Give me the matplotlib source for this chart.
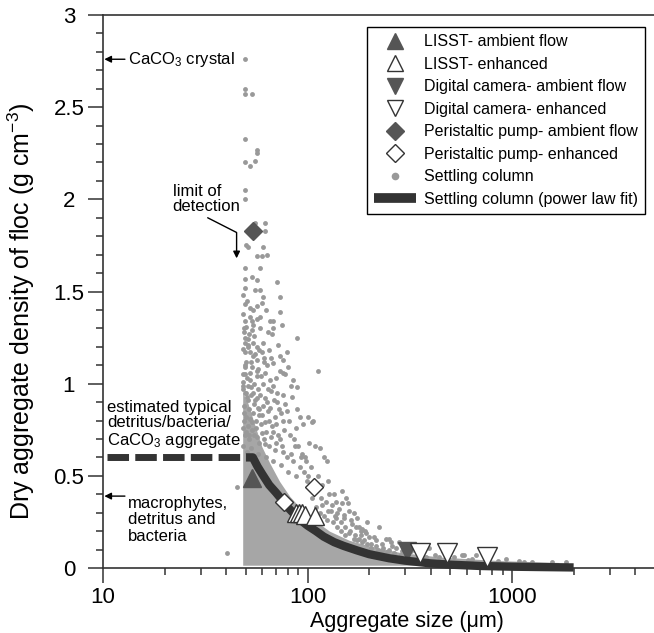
import numpy as np
import matplotlib.pyplot as plt
from matplotlib.lines import Line2D
from matplotlib.ticker import MultipleLocator, LogLocator, NullFormatter

plt.rcParams['font.family'] = ['Liberation Sans', 'DejaVu Sans']
plt.rcParams['mathtext.fontset'] = 'custom'
plt.rcParams['mathtext.rm'] = 'Liberation Sans'
plt.rcParams['mathtext.it'] = 'Liberation Sans:italic'
plt.rcParams['mathtext.default'] = 'regular'

col_x = [49.3, 49.3, 49.3, 53.3, 49.3, 56.5, 56.7, 49.3, 52.1, 55.1, 49.3, 49.3,
         55.1, 61.7, 61.7, 49.9, 50.9, 60.3, 63.1, 56.4, 59.7,
         49.3, 58.3, 49.3, 53.3, 56.4, 70.6, 49.3, 55.1, 58.3, 60.3, 73.0,
         49.3, 52.1, 56.4, 53.9, 59.7, 73.0, 49.3, 53.3, 56.4, 65.3, 67.5, 74.7,
         58.3, 63.8, 67.5, 88.4, 49.3, 50.9, 49.3, 50.9, 53.9, 56.4, 60.3,
         49.3, 52.1, 53.9, 59.7, 56.4, 79.0, 73.0, 75.5, 67.5, 63.1, 111.9,
         49.3, 53.3, 56.4, 73.0, 75.5, 79.9, 49.3, 52.1, 56.4, 60.3, 65.3, 67.5,
         84.5, 88.4, 49.3, 53.9, 70.6, 75.5, 100, 104.6, 88.4, 91.4, 105.8,
         102, 108.2, 93.5, 96.7, 121, 124, 114.5,
         147, 135, 155, 157, 138, 148, 132, 160, 169, 175,
         196, 224, 179, 185, 194, 183, 212, 251, 243, 257, 281, 260,
         394, 583, 570, 667, 935, 1082, 1253, 1567, 1834, 45.1, 40.3,
         48.5, 50.5, 52.8, 55.5, 58.5, 62, 66, 71, 78, 84,
         48.8, 51.5, 54, 57, 60, 64, 69, 74, 81, 95,
         49, 51, 53.5, 56, 59, 62.5, 67, 72, 77, 86,
         49.5, 52, 55, 58, 61, 65, 70, 76, 83, 90,
         48.6, 50.8, 53, 57.5, 63, 68, 74, 80, 88, 99,
         104, 112, 118, 126, 128, 140, 150, 165, 190, 230,
         270, 320, 350, 420, 460, 520, 640, 750, 850, 1150,
         48.3, 50.2, 51.8, 48.4, 54.6, 57.8, 61.2, 50.0, 52.6, 48.2,
         54.8, 58.9, 62.3, 69.8, 64.4, 57.0, 51.2, 48.9, 53.4, 66.0,
         48.4, 49.8, 51.4, 53.1, 54.9, 56.8, 58.2, 60.7, 63.5, 65.9,
         68.2, 72.5, 76.1, 79.6, 48.9, 50.3, 52.2, 55.7, 57.9, 61.8,
         64.9, 67.7, 70.3, 73.4, 48.3, 50.1, 51.9, 53.8, 56.4, 59.6,
         62.1, 66.3, 69.3, 75.2, 79.1, 85.0, 91.8, 96.0, 101, 108,
         113, 117, 123, 130, 137, 145, 153, 162, 170, 178,
         188, 205, 215, 235, 250, 290, 310, 380, 440, 610,
         82, 87, 93, 98, 88,
         105, 110, 115, 120, 125, 133, 140, 146, 152, 160,
         168, 175, 185, 195, 205, 220, 232, 245, 265, 285,
         118, 126, 138, 142, 150, 163, 172, 182, 200, 215,
         48.5, 50.6, 52.4, 54.2, 48.7, 51.3, 55.5, 49.6, 53.0, 57.2,
         48.3, 50.4, 61.5, 64.8, 71.4, 77.5, 83.0, 58.8, 62.7, 66.9]
col_y = [2.76, 2.60, 2.57, 2.57, 2.33, 2.27, 2.25, 2.20, 2.18, 2.21, 2.05, 2.00,
         1.87, 1.87, 1.83, 1.75, 1.74, 1.74, 1.70, 1.69, 1.69,
         1.63, 1.63, 1.57, 1.58, 1.56, 1.55, 1.52, 1.51, 1.51, 1.47, 1.47,
         1.43, 1.41, 1.42, 1.40, 1.44, 1.39, 1.34, 1.34, 1.35, 1.34, 1.34, 1.32,
         1.30, 1.28, 1.30, 1.25, 1.25, 1.24, 1.22, 1.20, 1.22, 1.20, 1.22,
         1.17, 1.17, 1.15, 1.17, 1.13, 1.17, 1.15, 1.13, 1.11, 1.10, 1.07,
         1.09, 1.09, 1.07, 1.07, 1.06, 1.09, 1.05, 1.02, 1.04, 1.00, 1.02, 0.99,
         1.02, 0.98, 0.95, 0.95, 0.95, 0.94, 0.82, 0.79, 0.86, 0.82, 0.80,
         0.68, 0.66, 0.62, 0.60, 0.60, 0.58, 0.65,
         0.42, 0.40, 0.38, 0.35, 0.36, 0.35, 0.34, 0.31, 0.30, 0.27,
         0.25, 0.22, 0.22, 0.21, 0.19, 0.18, 0.17, 0.16, 0.16, 0.14, 0.14, 0.12,
         0.11, 0.07, 0.07, 0.07, 0.05, 0.04, 0.03, 0.03, 0.03, 0.44, 0.08,
         0.97, 0.93, 0.98, 0.91, 0.94, 0.92, 0.96, 0.90, 0.89, 0.93,
         0.88, 0.86, 0.84, 0.87, 0.83, 0.85, 0.82, 0.84, 0.80, 0.78,
         0.80, 0.77, 0.79, 0.76, 0.78, 0.74, 0.77, 0.72, 0.75, 0.70,
         0.72, 0.70, 0.72, 0.68, 0.70, 0.66, 0.68, 0.63, 0.62, 0.66,
         0.66, 0.63, 0.65, 0.62, 0.60, 0.58, 0.56, 0.52, 0.50, 0.47,
         0.55, 0.50, 0.45, 0.47, 0.40, 0.30, 0.27, 0.24, 0.20, 0.13,
         0.11, 0.09, 0.10, 0.07, 0.09, 0.06, 0.05, 0.045, 0.04, 0.035,
         1.38, 1.31, 1.27, 1.19, 1.26, 1.18, 1.14, 1.12, 1.06, 1.01,
         1.00, 1.04, 1.06, 1.03, 0.97, 0.97, 0.99, 1.30, 1.29, 1.14,
         0.99, 0.95, 0.91, 0.94, 0.89, 0.92, 0.86, 0.88, 0.90, 0.87,
         0.91, 0.86, 0.80, 0.85, 0.84, 0.82, 0.81, 0.80, 0.83, 0.79,
         0.80, 0.74, 0.78, 0.70, 0.76, 0.74, 0.72, 0.75, 0.71, 0.73,
         0.67, 0.71, 0.64, 0.66, 0.60, 0.58, 0.55, 0.52, 0.50, 0.47,
         0.44, 0.38, 0.36, 0.31, 0.28, 0.25, 0.22, 0.20, 0.18, 0.16,
         0.15, 0.13, 0.12, 0.11, 0.10, 0.09, 0.07, 0.06, 0.06, 0.045,
         0.72, 0.66, 0.60, 0.58, 0.76,
         0.38, 0.33, 0.30, 0.28, 0.26, 0.25, 0.22, 0.20, 0.18, 0.19,
         0.16, 0.15, 0.14, 0.13, 0.11, 0.10, 0.09, 0.085, 0.08, 0.07,
         0.34, 0.31, 0.27, 0.32, 0.29, 0.26, 0.22, 0.20, 0.17, 0.15,
         1.48, 1.45, 1.36, 1.32, 1.28, 1.21, 1.16, 1.10, 1.12, 1.08,
         1.05, 1.03, 1.12, 1.18, 1.21, 1.05, 0.99, 1.36, 1.40, 1.27]

# envelope of the densely packed part of the settling column cloud
core_x = [48.2, 50.9, 55.1, 59.7, 65.3, 73.0, 81.7, 91.4, 108, 128, 160, 201, 281, 441, 865, 1695]
core_top = [0.95, 0.90, 0.78, 0.66, 0.57, 0.47, 0.39, 0.33, 0.26, 0.20, 0.15, 0.12, 0.085, 0.06, 0.04, 0.03]
core_bottom = 0.015

# power law fit of the settling column
fit_x = [50, 54, 57, 60, 65, 70, 75, 80, 90, 100, 110, 120, 135, 150, 175, 200,
         250, 300, 400, 500, 700, 1000, 1400, 2000]
fit_y = [0.60, 0.60, 0.55, 0.51, 0.45, 0.41, 0.37, 0.33, 0.27, 0.23, 0.20, 0.17,
         0.14, 0.12, 0.095, 0.075, 0.053, 0.040, 0.025, 0.018, 0.011, 0.007, 0.005, 0.003]

# estimated typical detritus/bacteria/CaCO3 aggregate density
typ_x = [10.45, 52]
typ_y = [0.6, 0.6]

lisst_amb_x = [53.3]
lisst_amb_y = [0.49]
lisst_enh_x = [88, 91, 94, 97, 109]
lisst_enh_y = [0.30, 0.30, 0.30, 0.29, 0.28]
cam_amb_x = [305]
cam_amb_y = [0.09]
cam_enh_x = [355, 480, 755]
cam_enh_y = [0.08, 0.08, 0.06]
pump_amb_x = [54]
pump_amb_y = [1.83]
pump_enh_x = [77, 107]
pump_enh_y = [0.36, 0.44]

yticks = [0, 0.5, 1, 1.5, 2, 2.5, 3]
ytick_labels = ['0', '0.5', '1', '1.5', '2', '2.5', '3']

dot_c = '#999999'
core_c = '#a6a6a6'
dark = '#333333'
mark_c = '#555555'

fig = plt.figure(figsize=(6.54, 6.33), dpi=100)
ax = fig.add_axes([103 / 654, 1 - 568 / 633, 552 / 654, 553 / 633])
ax.set_xscale('log')

ax.fill_between(core_x, core_bottom, core_top, color=core_c, lw=0, zorder=1)
ax.plot(col_x, col_y, 'o', ms=3.5, color=dot_c, mec='none', zorder=2)
ax.plot(typ_x, typ_y, color=dark, lw=5, dashes=(3.1, 0.9), dash_capstyle='butt', zorder=3)
ax.plot(fit_x, fit_y, color=dark, lw=6, solid_capstyle='butt', solid_joinstyle='round',
        clip_on=False, zorder=3)

ax.plot(lisst_amb_x, lisst_amb_y, '^', ms=13, color=mark_c, mec=mark_c, zorder=2.5)
ax.plot(lisst_enh_x, lisst_enh_y, '^', ms=13, mfc='white', mec=dark, mew=1, zorder=4)
ax.plot(cam_amb_x, cam_amb_y, 'v', ms=13, color=mark_c, mec=mark_c, zorder=2.5)
ax.plot(cam_enh_x, cam_enh_y, 'v', ms=14, mfc='white', mec=dark, mew=1, zorder=4)
ax.plot(pump_amb_x, pump_amb_y, 'D', ms=9.5, color=mark_c, mec=mark_c, zorder=4)
ax.plot(pump_enh_x, pump_enh_y, 'D', ms=9.5, mfc='white', mec=dark, mew=1, zorder=4)

ax.set_xlim(10, 5000)
ax.set_ylim(0, 3)
ax.set_xticks([10, 100, 1000])
ax.set_xticklabels(['10', '100', '1000'])
ax.xaxis.set_minor_locator(LogLocator(base=10, subs=np.arange(2, 10)))
ax.xaxis.set_minor_formatter(NullFormatter())
ax.set_yticks(yticks)
ax.set_yticklabels(ytick_labels, ha='center')
ax.yaxis.set_minor_locator(MultipleLocator(0.1))
ax.tick_params(which='major', direction='out', length=10.5, width=1.1, labelsize=16, pad=3, color=dark)
ax.tick_params(axis='y', which='major', pad=14)
ax.tick_params(which='minor', direction='out', length=5, width=1.1, color=dark)
ax.spines['right'].set_visible(False)
for s in ['left', 'bottom', 'top']:
    ax.spines[s].set_linewidth(1.2)
    ax.spines[s].set_color(dark)

ax.set_xlabel('Aggregate size (\u03bcm)', fontsize=15.5)
ax.xaxis.set_label_coords(0.551, -0.078)
ax.set_ylabel('Dry aggregate density of floc (g cm$^{-3}$)', fontsize=18)
ax.yaxis.set_label_coords(-0.119, 0.465)

# annotations
arrow_kw = dict(arrowstyle='-|>', color='black', lw=1, shrinkA=0, shrinkB=0, mutation_scale=10)
ax.text(13.24, 2.76, 'CaCO$_3$ crystal', fontsize=12, va='center', ha='left')
ax.annotate('', xy=(10.15, 2.76), xytext=(12.8, 2.76), arrowprops=arrow_kw)
ax.text(13.24, 0.39, 'macrophytes,\ndetritus and\nbacteria', fontsize=12, va='top', ha='left',
        linespacing=1.1)
ax.annotate('', xy=(10.15, 0.39), xytext=(12.8, 0.39), arrowprops=arrow_kw)
ax.text(10.45, 0.64, 'estimated typical\ndetritus/bacteria/\nCaCO$_3$ aggregate', fontsize=12,
        va='bottom', ha='left', linespacing=1.05)
ax.text(21.9, 2.0, 'limit of\ndetection', fontsize=12, ha='left', va='center', linespacing=1.0)
ax.annotate('', xy=(45, 1.68), xytext=(32.5, 1.90),
            arrowprops=dict(arrow_kw, connectionstyle='angle,angleA=-27,angleB=90,rad=0'))

handles = [
    Line2D([], [], marker='^', ls='none', ms=12, color=mark_c),
    Line2D([], [], marker='^', ls='none', ms=12, mfc='white', mec=dark, mew=1),
    Line2D([], [], marker='v', ls='none', ms=12, color=mark_c),
    Line2D([], [], marker='v', ls='none', ms=12, mfc='white', mec=dark, mew=1),
    Line2D([], [], marker='D', ls='none', ms=9, color=mark_c),
    Line2D([], [], marker='D', ls='none', ms=9, mfc='white', mec=dark, mew=1),
    Line2D([], [], marker='o', ls='none', ms=5.5, color=dot_c, mec='none'),
    Line2D([], [], color=dark, lw=7, solid_capstyle='butt'),
]
labels = ['LISST- ambient flow', 'LISST- enhanced', 'Digital camera- ambient flow',
          'Digital camera- enhanced', 'Peristaltic pump- ambient flow',
          'Peristaltic pump- enhanced', 'Settling column', 'Settling column (power law fit)']
leg = ax.legend(handles, labels, loc='upper right', bbox_to_anchor=(0.982, 0.978),
                borderaxespad=0, fontsize=11.5, fancybox=False, framealpha=1,
                edgecolor='black', handlelength=2.6, handletextpad=0.5,
                labelspacing=0.47, borderpad=0.45)
leg.get_frame().set_linewidth(1)

fig.savefig('out.png', dpi=100)
